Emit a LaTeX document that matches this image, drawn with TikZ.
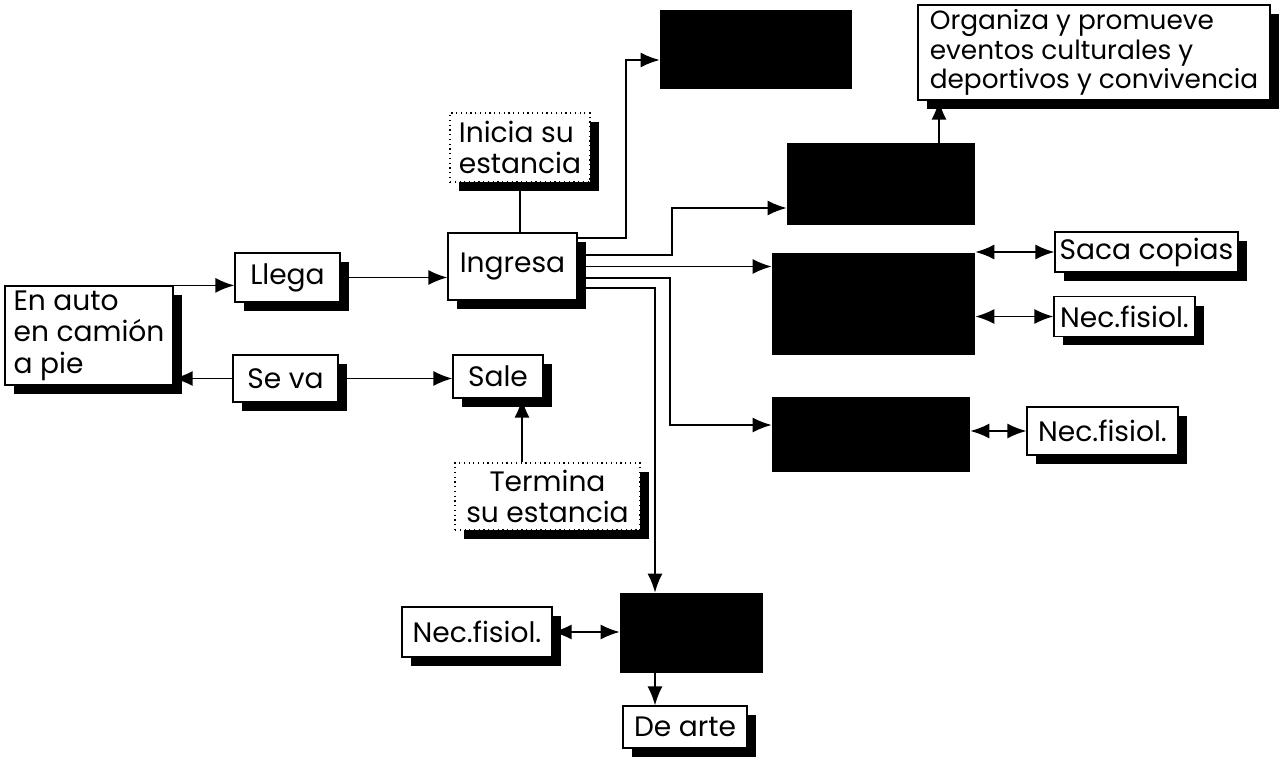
\documentclass[tikz,border=0pt]{standalone}
\usepackage{fontspec}
\setmainfont{Poppins}
\usetikzlibrary{arrows.meta,shadows}
\tikzset{
  caja/.style={draw,line width=0.7pt,fill=white,inner sep=0pt,align=center,
    font=\fontsize{16}{18}\selectfont,
    drop shadow={shadow xshift=0.18cm,shadow yshift=-0.18cm,fill=black,opacity=1}},
  cajap/.style={caja,dotted},
  negro/.style={fill=black,inner sep=0pt},
  tam/.style 2 args={minimum width=#1cm,minimum height=#2cm},
  flecha/.style={line width=1pt,-{Latex[length=0.38cm,width=0.3cm]}},
  doble/.style={line width=1pt,{Latex[length=0.38cm,width=0.3cm]}-{Latex[length=0.38cm,width=0.3cm]}},
}

\begin{document}
\begin{tikzpicture}[x=0.02cm,y=-0.02cm]
  \fill[white] (0,0) rectangle (1279,760);
  \useasboundingbox (0,0) rectangle (1279,760);

  \node[caja,tam={3.36}{1.98},align=left] (auto) at (89,335.5) {En auto\\en camión\\a pie};
  \node[caja,tam={2.1}{0.98}] (llega) at (287.5,277.5) {Llega};
  \node[caja,tam={2.1}{0.94}] (seva) at (285.5,378.5) {Se va};
  \node[caja,tam={2.58}{1.34}] (ingresa) at (512.5,266.5) {Ingresa};
  \node[cajap,tam={2.8}{1.38},align=left] (inicia) at (520,147.5) {Inicia su\\estancia};
  \node[caja,tam={1.8}{0.86}] (sale) at (498,376.5) {Sale};
  \node[cajap,tam={3.7}{1.34}] (termina) at (547.5,496.5) {Termina\\su estancia};

  \node[negro,tam={3.84}{1.58}] (negro1) at (756,49.5) {};
  \node[negro,tam={3.76}{1.64}] (negro2) at (881,184) {};
  \node[negro,tam={4.06}{2.04}] (negro3) at (873.5,304) {};
  \node[negro,tam={3.96}{1.5}] (negro4) at (871,434.5) {};
  \node[negro,tam={2.86}{1.6}] (negro5) at (691.5,633) {};

  \node[caja,tam={7.04}{1.9},align=left,font=\fontsize{15}{17}\selectfont] (organiza) at (1094,52.5)
    {Organiza y promueve\\eventos culturales y\\deportivos y convivencia};
  \node[caja,tam={3.66}{0.8}] (copias) at (1146.5,252) {Saca copias};
  \node[caja,tam={2.82}{0.8}] (fisiol1) at (1124.5,316.5) {Nec.fisiol.};
  \node[caja,tam={3.02}{0.96}] (fisiol2) at (1102.5,431) {Nec.fisiol.};
  \node[caja,tam={3.0}{1.0}] (fisiol3) at (477,632) {Nec.fisiol.};
  \node[caja,tam={2.48}{0.84}] (arte) at (685,727) {De arte};

  \coordinate (q1) at (626,60);
  \coordinate (q2) at (672,208);
  \coordinate (q4) at (670,425);
  \coordinate (q5) at (655,288);
  \coordinate (q6) at (939,120);
  \coordinate (q7) at (522,430);

  \draw[flecha] (auto.north east) -- (auto.north east -| llega.west);
  \draw[flecha] (seva.west) -- (seva.west -| auto.east);
  \draw[flecha] (llega.east) -- (llega.east -| ingresa.west);
  \draw[flecha] (seva.east) -- (seva.east -| sale.west);
  \draw[line width=1pt] (inicia.south |- ingresa.north) -- (inicia.south);
  \draw[flecha] (q7 |- termina.north) -- (q7 |- sale.south);

  \draw[flecha] ([yshift=0.57cm]ingresa.east) -| (q1) -- (q1 -| negro1.west);
  \draw[flecha] ([yshift=0.23cm]ingresa.east) -| (q2) -- (q2 -| negro2.west);
  \draw[flecha] (ingresa.east) -- (ingresa.east -| negro3.west);
  \draw[flecha] ([yshift=-0.23cm]ingresa.east) -| (q4) -- (q4 -| negro4.west);
  \draw[flecha] ([yshift=-0.43cm]ingresa.east) -- (q5) -- (q5 |- negro5.north);
  \draw[flecha] (q5 |- negro5.south) -- (q5 |- arte.north);
  \draw[flecha] (q6 |- negro2.north) -- (q6 |- organiza.south);

  \draw[doble] (copias.west -| negro3.east) -- (copias.west);
  \draw[doble] (fisiol1.west -| negro3.east) -- (fisiol1.west);
  \draw[doble] (fisiol2.west -| negro4.east) -- (fisiol2.west);
  \draw[doble] (fisiol3.east) -- (fisiol3.east -| negro5.west);
\end{tikzpicture}
\end{document}
